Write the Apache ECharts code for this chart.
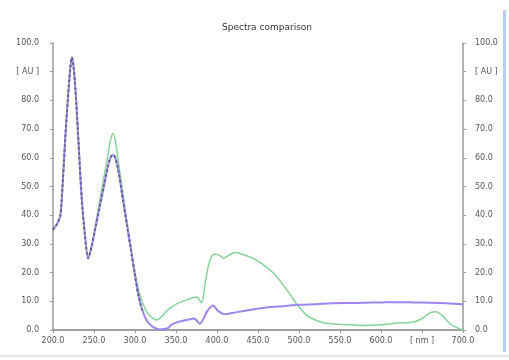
<!DOCTYPE html>
<html>
<head>
<meta charset="utf-8">
<script src="https://cdn.jsdelivr.net/npm/echarts@6/dist/echarts.min.js"></script>
<style>
  html, body { margin: 0; padding: 0; background: #fff; }
  #chart { width: 509px; height: 360px; }
</style>
</head>
<body>
<div id="chart"></div>
<script>
// Wavelength grid ticks and their labels
const xTicks = [200, 250, 300, 350, 400, 450, 500, 550, 600, 650, 700];
const xTickLabels = ['200.0', '250.0', '300.0', '350.0', '400.0', '450.0', '500.0', '550.0', '600.0', '[ nm ]', '700.0'];
const yTicks = [0, 10, 20, 30, 40, 50, 60, 70, 80, 90, 100];
const yTickLabels = ['0.0', '10.0', '20.0', '30.0', '40.0', '50.0', '60.0', '70.0', '80.0', '[ AU ]', '100.0'];

// Spectrum A (green): wavelength [nm] and absorbance [AU]
const greenNm = [200, 205, 209, 212, 215, 218, 221, 223, 225, 228, 231, 235, 239, 243, 247, 252, 257, 262, 267, 270, 273, 276, 280, 285, 290, 295, 300, 305, 310, 315, 320, 326, 332, 340, 350, 363, 375, 381, 386, 391, 397, 403, 408, 414, 422, 430, 440, 450, 460, 470, 480, 490, 500, 510, 520, 530, 540, 560, 580, 600, 620, 640, 650, 660, 667, 675, 685, 695, 700];
const greenAU = [35, 37, 40, 52, 67, 80, 91, 95, 92, 81, 66, 46, 33, 25, 29, 37, 45, 53, 61, 66, 68.5, 66, 58, 48, 38, 29, 20, 13, 9, 6, 4.5, 3.5, 4.5, 7, 9, 10.5, 11.5, 9.5, 17, 24, 26.5, 26, 25, 26, 27, 26.5, 25.5, 24, 22, 19.5, 16, 12, 8, 5, 3.5, 2.5, 2.2, 1.8, 1.6, 1.8, 2.4, 2.8, 4, 6, 6.4, 5, 2, 0.5, 0];

// Spectrum B (purple)
const purpleNm = [200, 205, 209, 212, 215, 218, 221, 223, 225, 228, 231, 235, 239, 243, 247, 252, 257, 262, 267, 270, 273, 276, 280, 285, 290, 295, 300, 305, 310, 315, 320, 325, 330, 340, 345, 355, 363, 372, 379, 388, 395, 402, 410, 420, 440, 460, 480, 500, 520, 540, 560, 580, 600, 620, 640, 660, 680, 700];
const purpleAU = [35, 37, 40, 52, 67, 80, 91, 95, 92, 81, 66, 46, 33, 25, 29, 36, 43, 50, 57, 60, 61, 60, 55, 46, 37, 28, 19, 11, 6, 3, 1.5, 0.6, 0.2, 0.6, 2, 3, 3.5, 4, 2.2, 6.5, 8.5, 6.5, 5.5, 6, 7, 7.8, 8.3, 8.8, 9, 9.3, 9.4, 9.5, 9.6, 9.7, 9.6, 9.5, 9.3, 9];

// Reference trace (dark dotted), overlapping the short-wavelength region
const refNm = [200, 205, 209, 212, 215, 218, 221, 223, 225, 228, 231, 235, 239, 243, 247, 252, 257, 262, 267, 270, 273, 276, 280, 285, 290, 295, 300, 305, 310];
const refAU = [35, 37, 40, 52, 67, 80, 91, 95, 92, 81, 66, 46, 33, 25, 29, 36, 43, 50, 57, 60, 61, 60, 55, 46, 37, 28, 19, 11, 6];

const pairs = (xs, ys) => xs.map((x, i) => [x, ys[i]]);

const labelFont = { fontFamily: 'DejaVu Sans', fontSize: 8, color: '#555' };
const axisLineStyle = { lineStyle: { color: '#9a9a9a', width: 1.5 } };

function xLabel(v) { const i = xTicks.indexOf(v); return i >= 0 ? xTickLabels[i] : ''; }
function yLabel(v) { const i = yTicks.indexOf(v); return i >= 0 ? yTickLabels[i] : ''; }

const chart = echarts.init(document.getElementById('chart'), null, { renderer: 'canvas' });
chart.setOption({
  animation: false,
  backgroundColor: '#fff',
  title: {
    text: 'Spectra comparison',
    left: 262, top: 18, textAlign: 'center',
    textStyle: { fontFamily: 'DejaVu Sans', fontSize: 9, fontWeight: 'normal', color: '#333' }
  },
  grid: { left: 53, right: 46, top: 43, bottom: 30 },
  xAxis: [
    {
      type: 'value', position: 'bottom', min: 200, max: 700, interval: 50,
      axisLine: axisLineStyle,
      axisTick: { show: true, length: 3, lineStyle: { color: '#9a9a9a' } },
      axisLabel: Object.assign({ formatter: xLabel, margin: 7 }, labelFont),
      splitLine: { show: false }
    },
    {
      type: 'value', position: 'top', min: 200, max: 700, interval: 50,
      axisLine: axisLineStyle,
      axisTick: { show: true, inside: true, length: 2, lineStyle: { color: '#9a9a9a' } },
      axisLabel: { show: false },
      splitLine: { show: false }
    }
  ],
  yAxis: [
    {
      type: 'value', position: 'left', min: 0, max: 100, interval: 10,
      axisLine: axisLineStyle,
      axisTick: { show: true, length: 3, lineStyle: { color: '#9a9a9a' } },
      axisLabel: Object.assign({ formatter: yLabel, margin: 14 }, labelFont),
      splitLine: { show: false }
    },
    {
      type: 'value', position: 'right', min: 0, max: 100, interval: 10,
      axisLine: axisLineStyle,
      axisTick: { show: true, length: 3, lineStyle: { color: '#9a9a9a' } },
      axisLabel: Object.assign({ formatter: yLabel, margin: 12 }, labelFont),
      splitLine: { show: false }
    }
  ],
  series: [
    {
      name: 'A', type: 'line', data: pairs(greenNm, greenAU), showSymbol: false, smooth: 0.3,
      lineStyle: { color: '#86d49a', width: 1.5 }
    },
    {
      name: 'B', type: 'line', data: pairs(purpleNm, purpleAU), showSymbol: false, smooth: 0.3,
      lineStyle: { color: '#a085f0', width: 2 }
    },
    {
      name: 'Ref', type: 'line', data: pairs(refNm, refAU), showSymbol: false, smooth: 0.3,
      lineStyle: { color: '#5a6270', width: 2, type: [2, 3] }
    }
  ],
  graphic: [
    { type: 'rect', shape: { x: 503, y: 10, width: 3, height: 342 }, style: { fill: '#bccbf0' } },
    { type: 'rect', shape: { x: 0, y: 355, width: 509, height: 2 }, style: { fill: '#e2e2e2' } }
  ]
});
</script>
</body>
</html>
